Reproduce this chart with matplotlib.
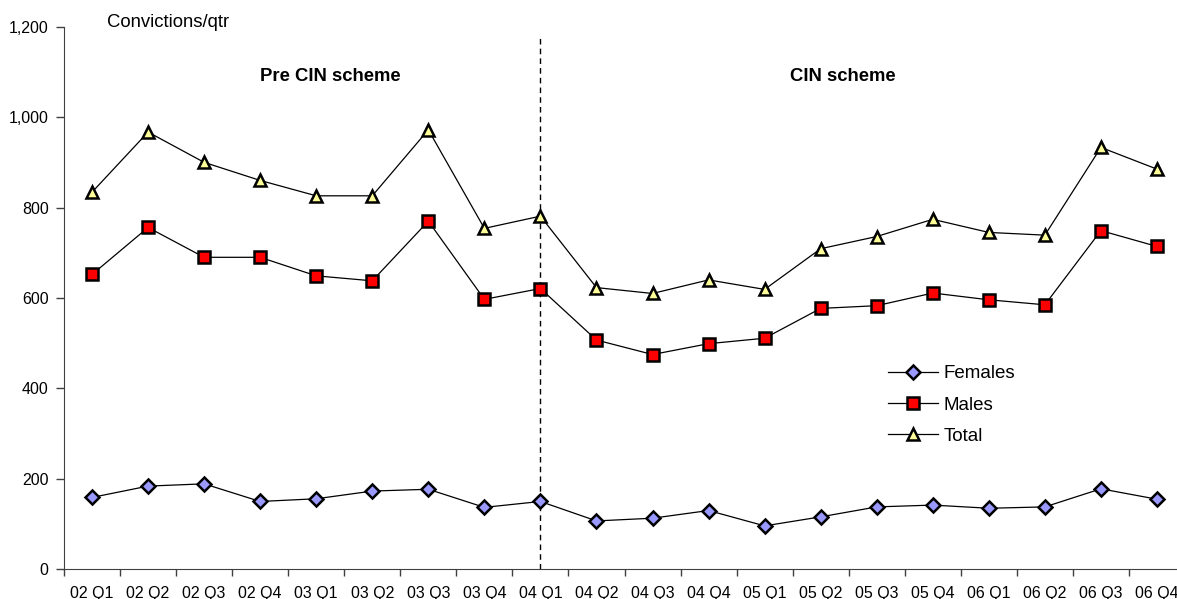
import numpy as np
import matplotlib.pyplot as plt
from matplotlib.ticker import FuncFormatter, FixedLocator

plt.rcParams['font.family'] = ['Liberation Sans', 'DejaVu Sans']

quarters = ['02 Q1', '02 Q2', '02 Q3', '02 Q4', '03 Q1', '03 Q2', '03 Q3', '03 Q4',
            '04 Q1', '04 Q2', '04 Q3', '04 Q4', '05 Q1', '05 Q2', '05 Q3', '05 Q4',
            '06 Q1', '06 Q2', '06 Q3', '06 Q4']
females = [159, 184, 189, 150, 156, 173, 177, 137, 150, 107, 113, 130,
           96, 116, 138, 142, 135, 138, 178, 155]
males = [652, 756, 690, 690, 649, 638, 770, 597, 621, 507, 475, 499,
         511, 577, 583, 611, 596, 585, 749, 714]
total = [834, 967, 900, 860, 826, 826, 972, 754, 781, 623, 610, 640,
         619, 709, 736, 774, 745, 739, 933, 885]
scheme_start = '04 Q1'

fig = plt.figure(figsize=(11.77, 5.99), dpi=100)
ax = fig.add_axes([64 / 1177, 29.7 / 599, 1121 / 1177, 542.6 / 599])

x = np.arange(len(quarters))
marker_style = dict(markersize=8, markeredgecolor='black', markeredgewidth=1.8)
ax.plot(x, females, color='black', lw=0.9, marker='D', markerfacecolor='#9999FF',
        label='Females', **{**marker_style, 'markersize': 7})
ax.plot(x, males, color='black', lw=0.9, marker='s', markerfacecolor='#FF0000',
        label='Males', **marker_style)
ax.plot(x, total, color='black', lw=0.9, marker='^', markerfacecolor='#FFFF99',
        label='Total', **marker_style)

# divider between the two periods
xs = quarters.index(scheme_start)
ax.plot([xs, xs], [0, 1180], color='black', lw=1, ls=(0, (4, 3)), zorder=1)

ax.text(4.25, 1090, 'Pre CIN scheme', fontsize=13.3, fontweight='bold', ha='center', va='center')
ax.text(13.4, 1090, 'CIN scheme', fontsize=13.3, fontweight='bold', ha='center', va='center')
ax.text(0.27, 1210, 'Convictions/qtr', fontsize=13.3, ha='left', va='center', clip_on=False)

ax.set_xlim(-0.5, len(quarters) - 0.5)
ax.set_ylim(0, 1200)
ax.set_yticks(np.arange(0, 1201, 200))
ax.yaxis.set_major_formatter(FuncFormatter(lambda v, p: f'{int(v):,}'))
ax.set_xticks(x)
ax.set_xticklabels(quarters)
ax.xaxis.set_minor_locator(FixedLocator(np.arange(-0.5, len(quarters), 1)))
ax.tick_params(axis='x', which='major', length=0, pad=12, labelsize=11.5)
ax.tick_params(axis='x', which='minor', length=5, width=1, color='#404040')
ax.tick_params(axis='y', length=6, width=1, color='#404040', labelsize=11.5, pad=5)

for s in ['top', 'right']:
    ax.spines[s].set_visible(False)
for s in ['left', 'bottom']:
    ax.spines[s].set_color('#404040')

ax.legend(loc='upper left', bbox_to_anchor=(0.728, 0.39), frameon=False, fontsize=13.5,
          handlelength=2.7, labelspacing=0.76, handletextpad=0.3, borderaxespad=0)

fig.savefig('out.png', dpi=100)
